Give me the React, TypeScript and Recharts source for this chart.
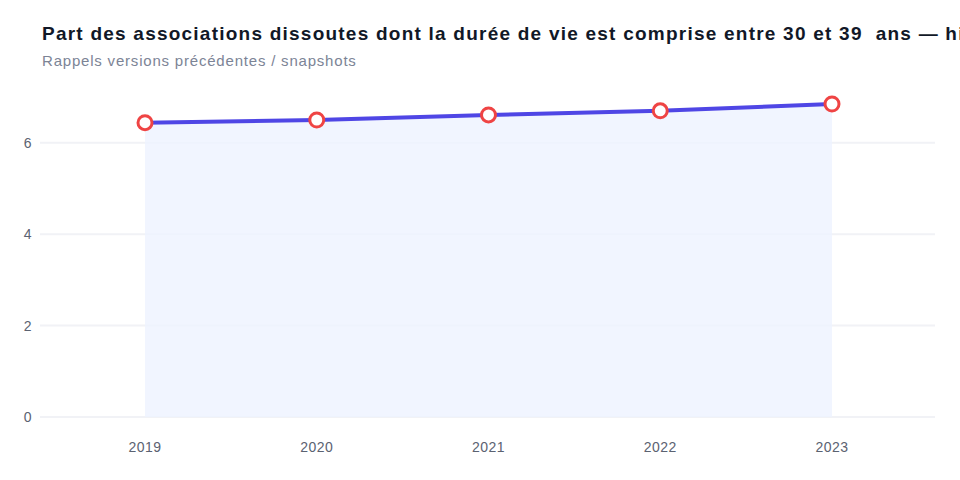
import { ComposedChart, Area, Line, XAxis, YAxis, CartesianGrid } from 'recharts'

const years = ['2019', '2020', '2021', '2022', '2023']
const shares = [6.44, 6.5, 6.61, 6.7, 6.85]
const yTicks = [0, 2, 4, 6]

const data = years.map((year, i) => ({ year, value: shares[i] }))

const font = '"Liberation Sans", Arial, Helvetica, sans-serif'
const tickStyle = { fontSize: 14, fill: '#5b6271', fontFamily: font, letterSpacing: 0.5 }

export default function App() {
  return (
    <div
      style={{
        position: 'absolute',
        left: 0,
        top: 0,
        width: 960,
        height: 480,
        overflow: 'hidden',
        background: '#fff',
        fontFamily: font,
      }}
    >
      <div
        style={{
          position: 'absolute',
          left: 42,
          top: 23,
          fontSize: 19,
          fontWeight: 700,
          color: '#111827',
          whiteSpace: 'pre',
          letterSpacing: 1.23,
        }}
      >
        Part des associations dissoutes dont la durée de vie est comprise entre 30 et 39  ans — historique
      </div>
      <div
        style={{
          position: 'absolute',
          left: 42,
          top: 52,
          fontSize: 15,
          color: '#7c8496',
          whiteSpace: 'pre',
          letterSpacing: 0.8,
        }}
      >
        Rappels versions précédentes / snapshots
      </div>
      <div style={{ position: 'absolute', left: 0, top: 0 }}>
        <ComposedChart
          width={960}
          height={480}
          data={data}
          margin={{ top: 104, right: 25, left: 0, bottom: 33 }}
        >
          <CartesianGrid vertical={false} stroke="#f1f2f6" strokeWidth={2} syncWithTicks />
          <XAxis
            dataKey="year"
            axisLine={false}
            tickLine={false}
            padding={{ left: 105, right: 103 }}
            height={30}
            tick={tickStyle}
            tickMargin={19}
          />
          <YAxis
            width={40}
            domain={[0, 'dataMax']}
            ticks={yTicks}
            axisLine={false}
            tickLine={false}
            tick={tickStyle}
          />
          <Area
            type="linear"
            dataKey="value"
            stroke="none"
            fill="#eef2ff"
            fillOpacity={0.8}
            isAnimationActive={false}
          />
          <Line
            type="linear"
            dataKey="value"
            stroke="#4f46e5"
            strokeWidth={4}
            dot={{ r: 7, fill: '#fff', stroke: '#ef4444', strokeWidth: 3 }}
            activeDot={false}
            isAnimationActive={false}
          />
        </ComposedChart>
      </div>
    </div>
  )
}
